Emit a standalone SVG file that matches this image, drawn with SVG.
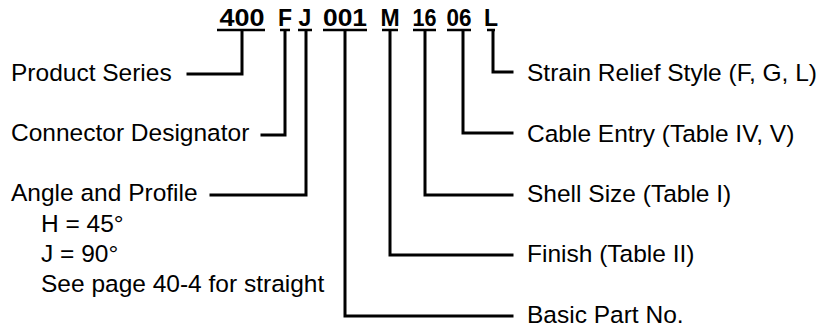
<svg xmlns="http://www.w3.org/2000/svg" width="829" height="330" viewBox="0 0 829 330">
<style>
.code{font-family:"Liberation Sans",Arial,sans-serif;font-weight:bold;font-size:23px;fill:#000;text-anchor:middle}
.lbl{font-family:"Liberation Sans",Arial,sans-serif;font-size:24.5px;fill:#000}
.ul{stroke:#000;stroke-width:2.5;fill:none}
.conn{stroke:#000;stroke-width:3;fill:none;stroke-linecap:square;stroke-linejoin:miter}
</style>
<rect width="829" height="330" fill="#fff"/>
<g id="partnumber">
<text class="code" x="242" y="26" textLength="45" lengthAdjust="spacingAndGlyphs">400</text>
<text class="code" x="285" y="26">F</text>
<text class="code" x="305" y="26">J</text>
<text class="code" x="345" y="26" textLength="44" lengthAdjust="spacingAndGlyphs">001</text>
<text class="code" x="390" y="26">M</text>
<text class="code" x="424.5" y="26" textLength="24" lengthAdjust="spacingAndGlyphs">16</text>
<text class="code" x="459" y="26" textLength="25" lengthAdjust="spacingAndGlyphs">06</text>
<text class="code" x="491" y="26">L</text>
<path class="ul" d="M217,30H265M280,30H290M298,30H312M323,30H367M382,30H398M413,30H436M447,30H471M487,30H495"/>
</g>
<g id="connectors">
<path class="conn" d="M188,74H242V31"/>
<path class="conn" d="M262,135H285V31"/>
<path class="conn" d="M211,195H306V31"/>
<path class="conn" d="M345,31V316H512"/>
<path class="conn" d="M390,31V255H512"/>
<path class="conn" d="M425,31V195H512"/>
<path class="conn" d="M463,31V133H512"/>
<path class="conn" d="M493,31V72H512"/>
</g>
<g id="product-series"><text class="lbl" x="11" y="81">Product Series</text></g>
<g id="connector-designator"><text class="lbl" x="11" y="141">Connector Designator</text></g>
<g id="angle-profile">
<text class="lbl" x="11" y="201">Angle and Profile</text>
<text class="lbl" x="41" y="232">H = 45°</text>
<text class="lbl" x="41" y="262">J = 90°</text>
<text class="lbl" x="41" y="292">See page 40-4 for straight</text>
</g>
<g id="strain-relief"><text class="lbl" x="527" y="81">Strain Relief Style (F, G, L)</text></g>
<g id="cable-entry"><text class="lbl" x="527" y="142">Cable Entry (Table IV, V)</text></g>
<g id="shell-size"><text class="lbl" x="527" y="202">Shell Size (Table I)</text></g>
<g id="finish"><text class="lbl" x="527" y="262">Finish (Table II)</text></g>
<g id="basic-part"><text class="lbl" x="527" y="323">Basic Part No.</text></g>
</svg>
